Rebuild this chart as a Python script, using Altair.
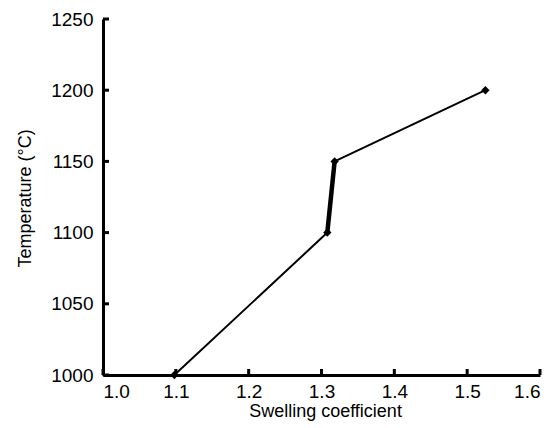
import altair as alt
import pandas as pd

swelling = [1.098, 1.308, 1.318, 1.525]
temperature = [1000, 1100, 1150, 1200]
thick_segment = [1, 2]  # indices of the steep, thicker segment
y_ticks = [1000, 1050, 1100, 1150, 1200, 1250]
x_ticks = [1.0, 1.1, 1.2, 1.3, 1.4, 1.5, 1.6]

df = pd.DataFrame({"x": swelling, "y": temperature})
thick = df.iloc[thick_segment]
yt = pd.DataFrame({"v": y_ticks})
xt = pd.DataFrame({"v": x_ticks})

FONT = "Liberation Sans"
xs = alt.Scale(domain=[1.0, 1.6], nice=False, zero=False)
ys = alt.Scale(domain=[1000, 1250], nice=False, zero=False)

line = alt.Chart(df).mark_line(color="black", strokeWidth=2).encode(
    x=alt.X("x:Q", scale=xs, title="Swelling coefficient",
            axis=alt.Axis(values=x_ticks, format=".1f", tickSize=0, labelPadding=7,
                          domainWidth=3, domainColor="black", grid=False,
                          labelFont=FONT, labelFontSize=19, labelColor="black",
                          titleFont=FONT, titleFontSize=18, titleFontWeight="normal",
                          titleColor="black", titleX=222, titleY=36,
                          titleAlign="center", titleBaseline="middle")),
    y=alt.Y("y:Q", scale=ys, title="Temperature (°C)",
            axis=alt.Axis(values=y_ticks, format="d", tickSize=0, labelPadding=10,
                          domainWidth=3, domainColor="black", grid=False,
                          labelFont=FONT, labelFontSize=19, labelColor="black",
                          titleFont=FONT, titleFontSize=18, titleFontWeight="normal",
                          titleColor="black", titleX=-78, titleY=179, titleAngle=-90,
                          titleAlign="center", titleBaseline="middle")),
)
thick_line = alt.Chart(thick).mark_line(color="black", strokeWidth=4.5).encode(
    x=alt.X("x:Q", scale=xs), y=alt.Y("y:Q", scale=ys))
pts = alt.Chart(df).mark_point(shape="diamond", filled=True, color="black", size=70, opacity=1).encode(
    x=alt.X("x:Q", scale=xs), y=alt.Y("y:Q", scale=ys))
ytick = alt.Chart(yt).mark_rule(color="black", strokeWidth=3).encode(
    y=alt.Y("v:Q", scale=ys), x=alt.value(0), x2=alt.value(6))
xtick = alt.Chart(xt).mark_rule(color="black", strokeWidth=3).encode(
    x=alt.X("v:Q", scale=xs), y=alt.value(356), y2=alt.value(350))

chart = alt.layer(line, thick_line, pts, ytick, xtick).properties(
    width=437, height=356,
    autosize=alt.AutoSizeParams(type="none"),
    padding={"left": 103, "top": 19, "right": 15, "bottom": 53},
    background="white",
).configure_view(stroke=None)

chart.save("out.html", embed_options={"renderer": "svg", "actions": False})
